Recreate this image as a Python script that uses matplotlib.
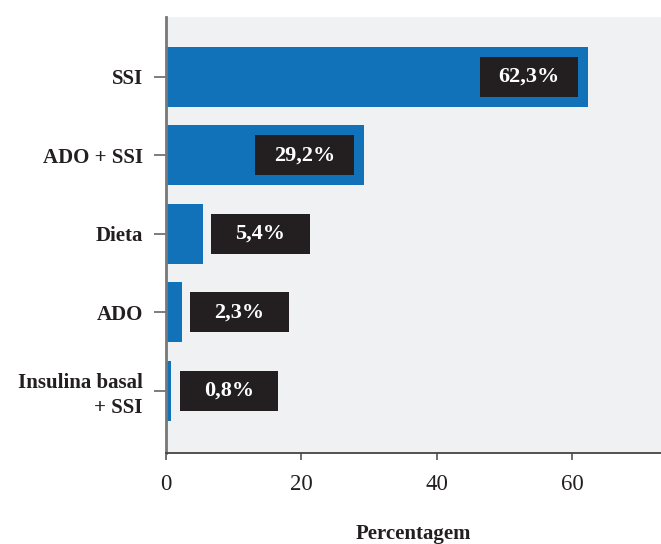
import matplotlib.pyplot as plt
from matplotlib.patches import Rectangle

categorias = ['Insulina basal\n+ SSI', 'ADO', 'Dieta', 'ADO + SSI', 'SSI']
percentagens = [0.8, 2.3, 5.4, 29.2, 62.3]
rotulos = ['0,8%', '2,3%', '5,4%', '29,2%', '62,3%']

plt.rcParams['font.family'] = ['Liberation Serif', 'DejaVu Serif']

fig = plt.figure(figsize=(6.61, 5.44), dpi=100)
ax = fig.add_axes([0.2511, 0.1673, 0.7489, 0.8015])
ax.set_facecolor('#f0f1f3')

pos = range(len(categorias))
ax.barh(pos, percentagens, height=0.765, color='#1172ba', zorder=2)

# caixas pretas com o valor: dentro da barra se for longa, fora se for curta
box_w, box_h = 14.5, 0.51
for y, v, txt in zip(pos, percentagens, rotulos):
    if v > 20:
        x0 = v - 1.5 - box_w
    else:
        x0 = v + 1.3
    ax.add_patch(Rectangle((x0, y - box_h / 2), box_w, box_h,
                           facecolor='#231f20', edgecolor='none', zorder=3))
    ax.text(x0 + box_w / 2, y, txt, ha='center', va='center', color='white',
            fontsize=16, fontweight='bold', zorder=4)

ax.set_xlim(0, 73.1)
ax.set_ylim(-0.79, 4.76)
ax.set_xticks([0, 20, 40, 60])
ax.set_yticks(list(pos))
ax.set_yticklabels(categorias, fontsize=15, fontweight='bold', color='#231f20',
                   ha='right', multialignment='right', linespacing=1.3)
ax.tick_params(axis='x', labelsize=16.5, colors='#555555', labelcolor='#231f20',
               length=5, width=1.2, pad=10)
ax.tick_params(axis='y', length=8.6, width=1.2, colors='#666666',
               labelcolor='#231f20', pad=8)

for s in ['top', 'right']:
    ax.spines[s].set_visible(False)
ax.spines['left'].set_color('#777777')
ax.spines['left'].set_linewidth(2)
ax.spines['bottom'].set_color('#444444')
ax.spines['bottom'].set_linewidth(1.3)

ax.set_xlabel('Percentagem', fontsize=15, fontweight='bold', color='#231f20',
              labelpad=21)

fig.savefig('out.png', dpi=100)
